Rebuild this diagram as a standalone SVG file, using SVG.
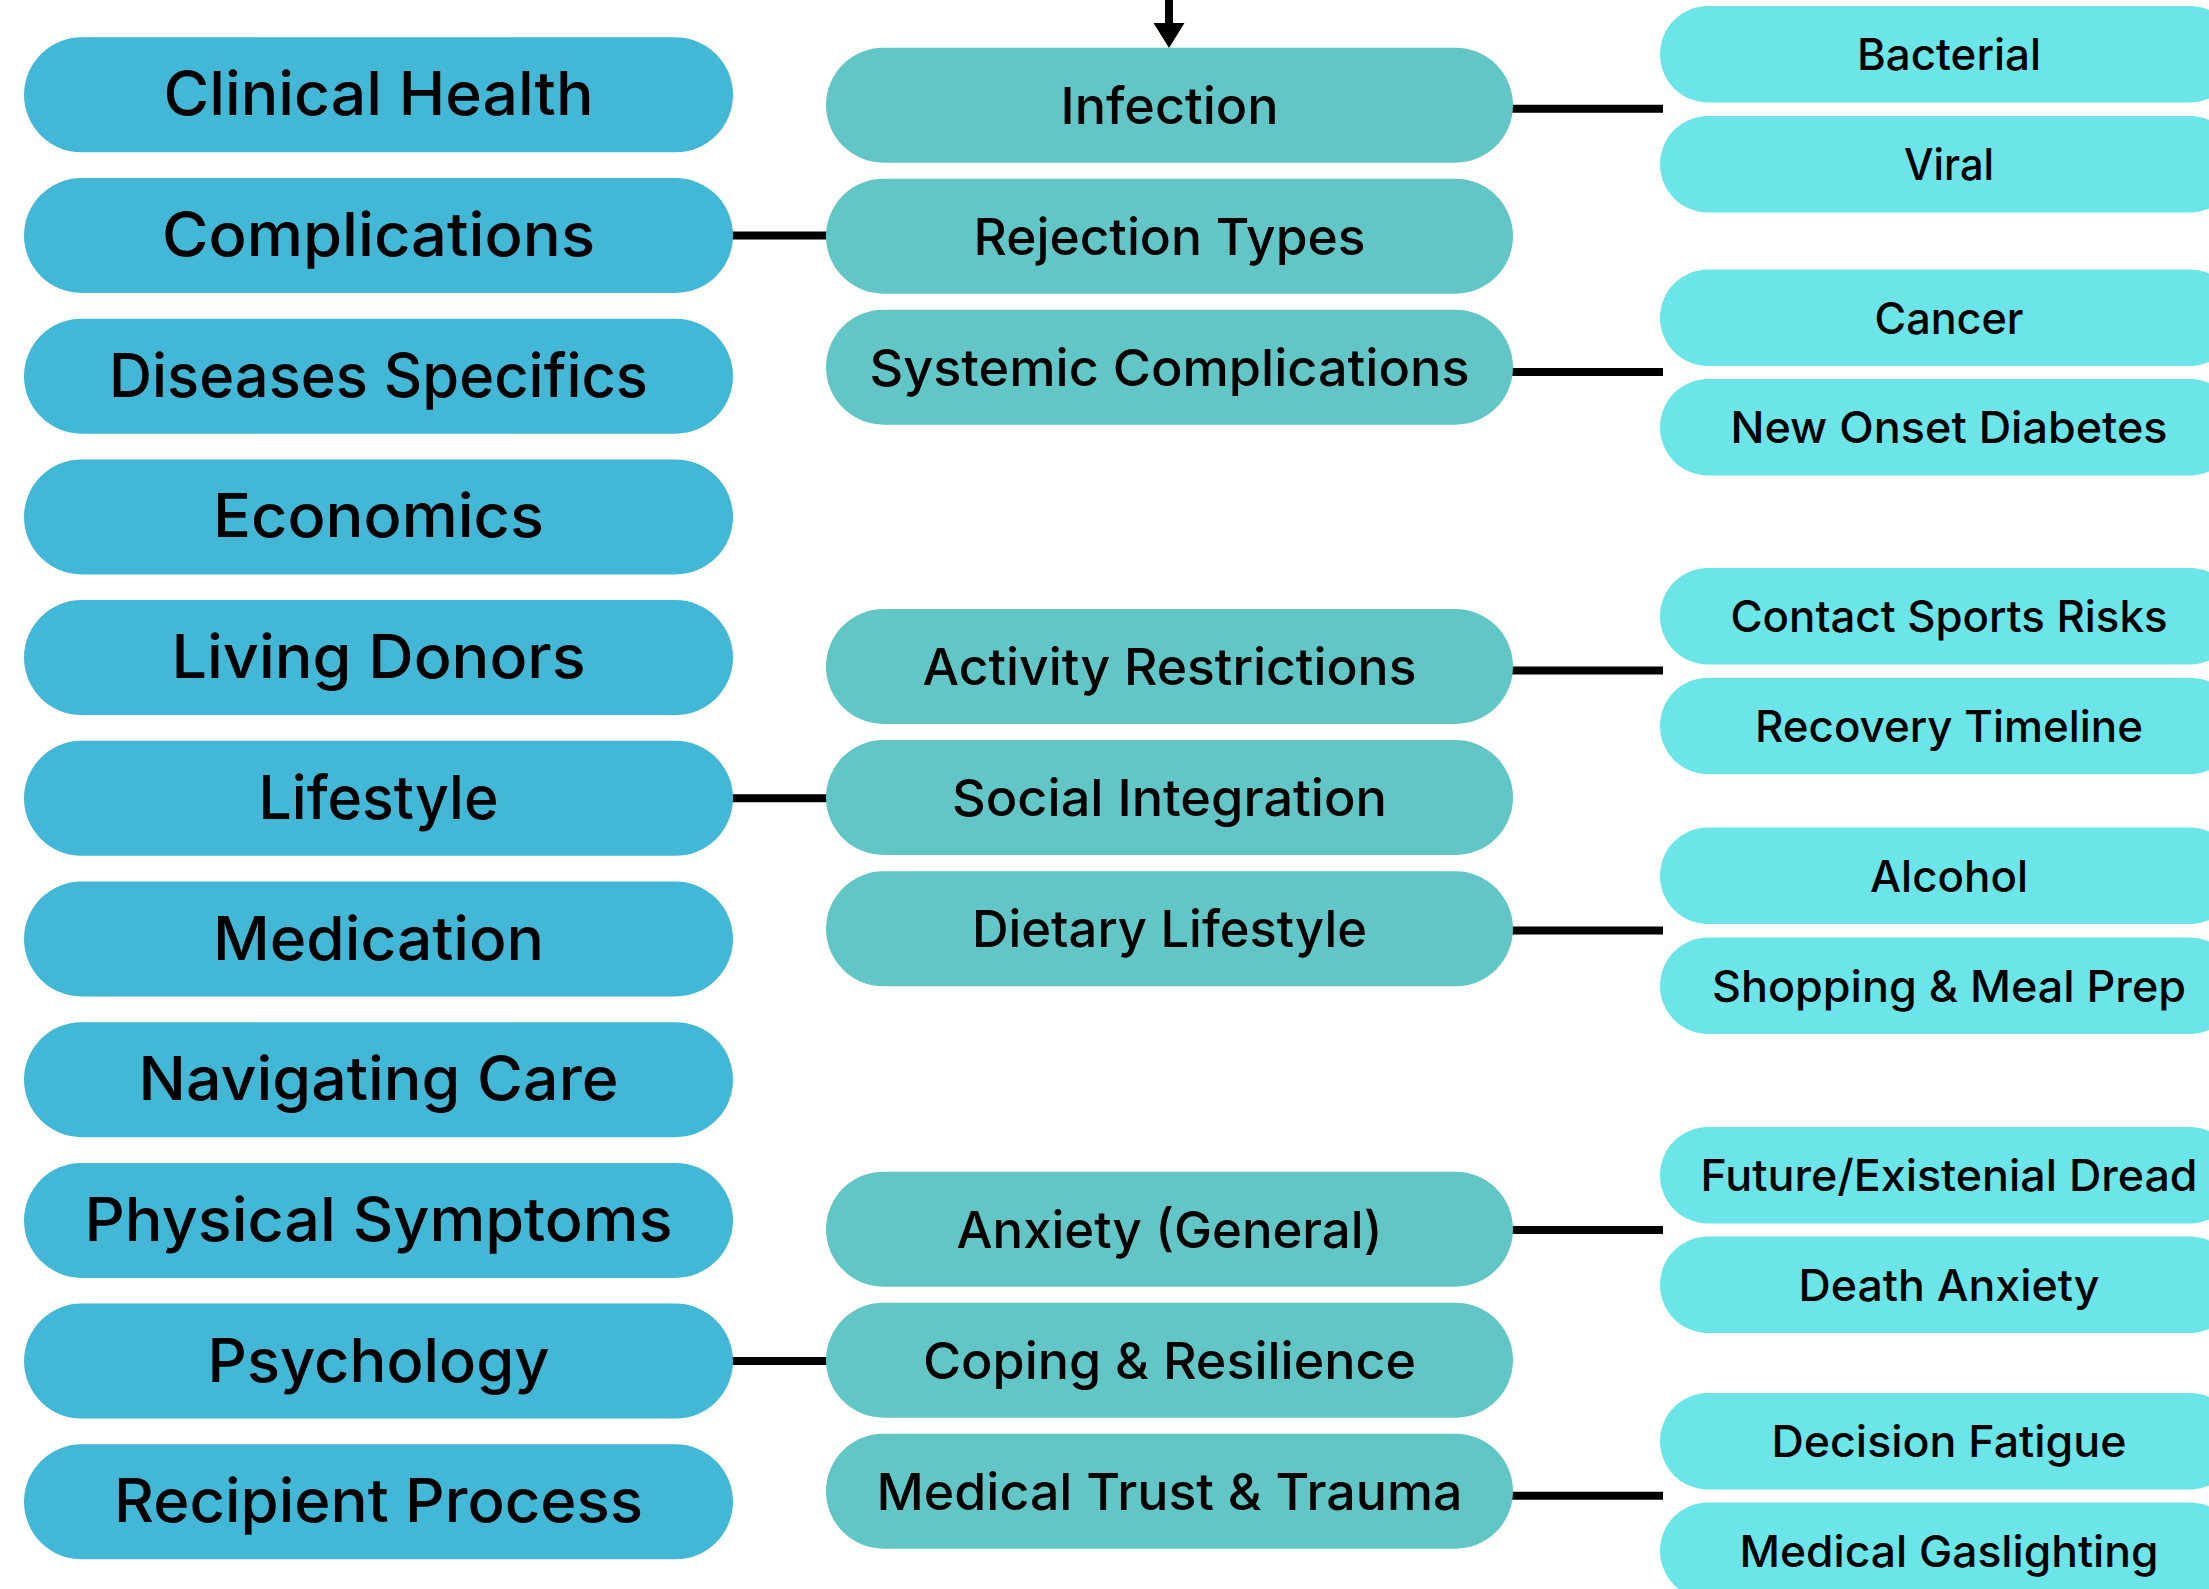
<svg xmlns="http://www.w3.org/2000/svg" width="2209" height="1589" viewBox="0 0 2209 1589">
<style>
.l rect{fill:#43B7D6}
.m rect{fill:#61C6C5}
.r rect{fill:#6CE5E8}
text{font-family:Inter,"Noto Sans","Liberation Sans",sans-serif;fill:#000;text-anchor:middle}
.l text{font-size:60.5px;font-weight:500}
.m text{font-size:51px;font-weight:500}
.r text{font-size:44px;font-weight:500}
.conn line{stroke:#000;stroke-width:8}
</style>
<defs>
<marker id="ah" markerUnits="userSpaceOnUse" markerWidth="25" markerHeight="31" refX="7" refY="15.5" orient="auto">
<path d="M0,0 L25,15.5 L0,31 z" fill="#000"/>
</marker>
</defs>
<rect width="2209" height="1589" fill="#fff"/>
<g id="connectors" class="conn">
<line x1="1169" y1="0" x2="1169" y2="30" marker-end="url(#ah)"/>
<line x1="730" y1="235.5" x2="829" y2="235.5"/>
<line x1="730" y1="798.3" x2="829" y2="798.3"/>
<line x1="730" y1="1361.1" x2="829" y2="1361.1"/>
<line x1="1510" y1="108.7" x2="1663" y2="108.7"/>
<line x1="1510" y1="372" x2="1663" y2="372"/>
<line x1="1510" y1="670.5" x2="1663" y2="670.5"/>
<line x1="1510" y1="930.5" x2="1663" y2="930.5"/>
<line x1="1510" y1="1230" x2="1663" y2="1230"/>
<line x1="1510" y1="1495.7" x2="1663" y2="1495.7"/>
</g>
<g class="l">
<g id="clinical-health"><rect x="24" y="37.3" width="709" height="115" rx="57.5"/><text x="378.5" y="115.3" textLength="430" lengthAdjust="spacingAndGlyphs">Clinical Health</text></g>
<g id="complications"><rect x="24" y="178" width="709" height="115" rx="57.5"/><text x="378.5" y="256" textLength="433" lengthAdjust="spacingAndGlyphs">Complications</text></g>
<g id="diseases-specifics"><rect x="24" y="318.7" width="709" height="115" rx="57.5"/><text x="378.5" y="396.7" textLength="539" lengthAdjust="spacingAndGlyphs">Diseases Specifics</text></g>
<g id="economics"><rect x="24" y="459.4" width="709" height="115" rx="57.5"/><text x="378.5" y="537.4" textLength="331" lengthAdjust="spacingAndGlyphs">Economics</text></g>
<g id="living-donors"><rect x="24" y="600.1" width="709" height="115" rx="57.5"/><text x="378.5" y="678.1" textLength="414" lengthAdjust="spacingAndGlyphs">Living Donors</text></g>
<g id="lifestyle"><rect x="24" y="740.8" width="709" height="115" rx="57.5"/><text x="378.5" y="818.8" textLength="240" lengthAdjust="spacingAndGlyphs">Lifestyle</text></g>
<g id="medication"><rect x="24" y="881.5" width="709" height="115" rx="57.5"/><text x="378.5" y="959.5" textLength="331" lengthAdjust="spacingAndGlyphs">Medication</text></g>
<g id="navigating-care"><rect x="24" y="1022.2" width="709" height="115" rx="57.5"/><text x="378.5" y="1100.2" textLength="480" lengthAdjust="spacingAndGlyphs">Navigating Care</text></g>
<g id="physical-symptoms"><rect x="24" y="1162.9" width="709" height="115" rx="57.5"/><text x="378.5" y="1240.9" textLength="588" lengthAdjust="spacingAndGlyphs">Physical Symptoms</text></g>
<g id="psychology"><rect x="24" y="1303.6" width="709" height="115" rx="57.5"/><text x="378.5" y="1381.6" textLength="342" lengthAdjust="spacingAndGlyphs">Psychology</text></g>
<g id="recipient-process"><rect x="24" y="1444.3" width="709" height="115" rx="57.5"/><text x="378.5" y="1522.3" textLength="529" lengthAdjust="spacingAndGlyphs">Recipient Process</text></g>
</g>
<g class="m">
<g id="infection"><rect x="826" y="47.7" width="687" height="115" rx="57.5"/><text x="1169.5" y="123.7" textLength="218" lengthAdjust="spacingAndGlyphs">Infection</text></g>
<g id="rejection-types"><rect x="826" y="178.7" width="687" height="115" rx="57.5"/><text x="1169.5" y="254.7" textLength="392" lengthAdjust="spacingAndGlyphs">Rejection Types</text></g>
<g id="systemic-complications"><rect x="826" y="309.7" width="687" height="115" rx="57.5"/><text x="1169.5" y="385.7" textLength="600" lengthAdjust="spacingAndGlyphs">Systemic Complications</text></g>
<g id="activity-restrictions"><rect x="826" y="609" width="687" height="115" rx="57.5"/><text x="1169.5" y="685" textLength="494" lengthAdjust="spacingAndGlyphs">Activity Restrictions</text></g>
<g id="social-integration"><rect x="826" y="740" width="687" height="115" rx="57.5"/><text x="1169.5" y="816" textLength="435" lengthAdjust="spacingAndGlyphs">Social Integration</text></g>
<g id="dietary-lifestyle"><rect x="826" y="871.3" width="687" height="115" rx="57.5"/><text x="1169.5" y="947.3" textLength="395" lengthAdjust="spacingAndGlyphs">Dietary Lifestyle</text></g>
<g id="anxiety-general"><rect x="826" y="1171.7" width="687" height="115" rx="57.5"/><text x="1169.5" y="1247.7" textLength="426" lengthAdjust="spacingAndGlyphs">Anxiety (General)</text></g>
<g id="coping-resilience"><rect x="826" y="1302.7" width="687" height="115" rx="57.5"/><text x="1169.5" y="1378.7" textLength="493" lengthAdjust="spacingAndGlyphs">Coping &amp; Resilience</text></g>
<g id="medical-trust-trauma"><rect x="826" y="1433.7" width="687" height="115" rx="57.5"/><text x="1169.5" y="1509.7" textLength="586" lengthAdjust="spacingAndGlyphs">Medical Trust &amp; Trauma</text></g>
</g>
<g class="r">
<g id="bacterial"><rect x="1660" y="6" width="578" height="96.5" rx="48"/><text x="1949" y="70" textLength="184" lengthAdjust="spacingAndGlyphs">Bacterial</text></g>
<g id="viral"><rect x="1660" y="116" width="578" height="96.5" rx="48"/><text x="1949" y="180" textLength="90" lengthAdjust="spacingAndGlyphs">Viral</text></g>
<g id="cancer"><rect x="1660" y="269.5" width="578" height="96.5" rx="48"/><text x="1949" y="333.5" textLength="149" lengthAdjust="spacingAndGlyphs">Cancer</text></g>
<g id="new-onset-diabetes"><rect x="1660" y="379" width="578" height="96.5" rx="48"/><text x="1949" y="443" textLength="437" lengthAdjust="spacingAndGlyphs">New Onset Diabetes</text></g>
<g id="contact-sports-risks"><rect x="1660" y="568" width="578" height="96.5" rx="48"/><text x="1949" y="632" textLength="437" lengthAdjust="spacingAndGlyphs">Contact Sports Risks</text></g>
<g id="recovery-timeline"><rect x="1660" y="677.7" width="578" height="96.5" rx="48"/><text x="1949" y="741.7" textLength="388" lengthAdjust="spacingAndGlyphs">Recovery Timeline</text></g>
<g id="alcohol"><rect x="1660" y="827.5" width="578" height="96.5" rx="48"/><text x="1949" y="891.5" textLength="158" lengthAdjust="spacingAndGlyphs">Alcohol</text></g>
<g id="shopping-meal-prep"><rect x="1660" y="937.5" width="578" height="96.5" rx="48"/><text x="1949" y="1001.5" textLength="474" lengthAdjust="spacingAndGlyphs">Shopping &amp; Meal Prep</text></g>
<g id="future-existenial-dread"><rect x="1660" y="1127" width="578" height="96.5" rx="48"/><text x="1949" y="1191" textLength="497" lengthAdjust="spacingAndGlyphs">Future/Existenial Dread</text></g>
<g id="death-anxiety"><rect x="1660" y="1236.5" width="578" height="96.5" rx="48"/><text x="1949" y="1300.5" textLength="301" lengthAdjust="spacingAndGlyphs">Death Anxiety</text></g>
<g id="decision-fatigue"><rect x="1660" y="1393" width="578" height="96.5" rx="48"/><text x="1949" y="1457" textLength="355" lengthAdjust="spacingAndGlyphs">Decision Fatigue</text></g>
<g id="medical-gaslighting"><rect x="1660" y="1502.5" width="578" height="96.5" rx="48"/><text x="1949" y="1566.5" textLength="419" lengthAdjust="spacingAndGlyphs">Medical Gaslighting</text></g>
</g>
</svg>
